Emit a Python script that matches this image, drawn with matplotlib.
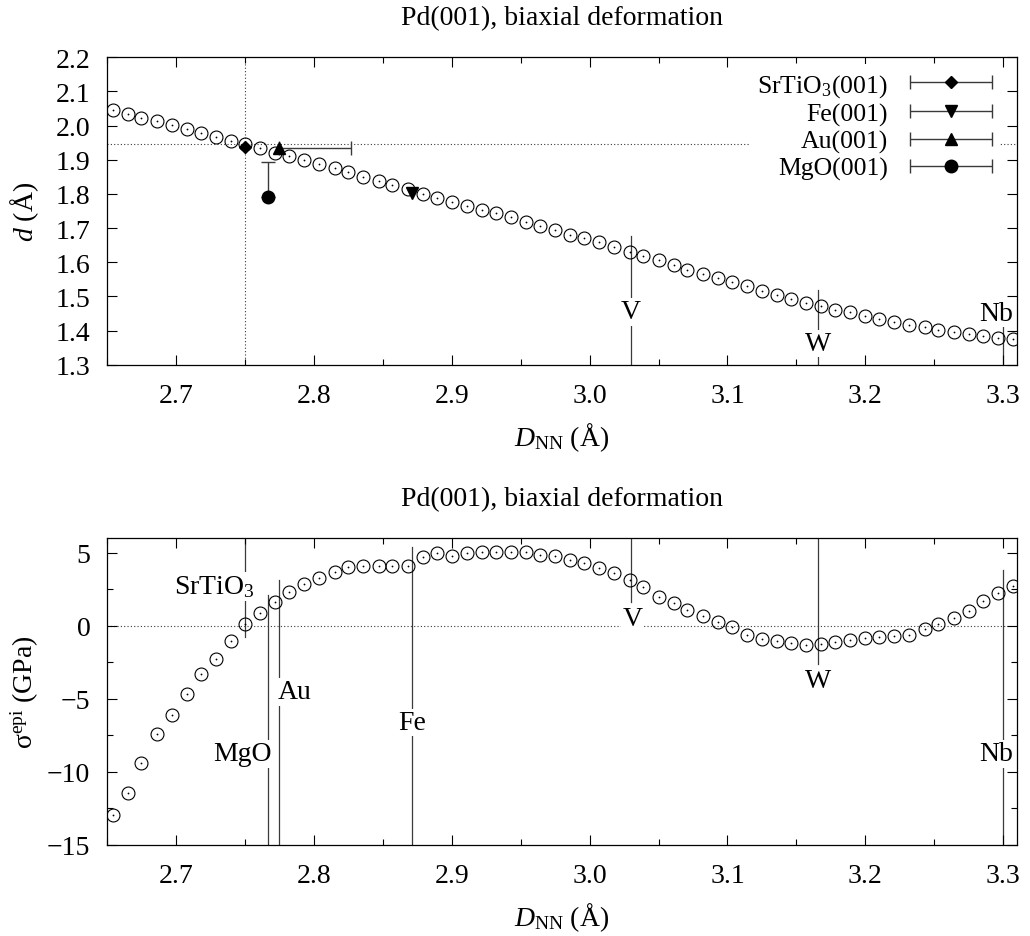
import numpy as np
import matplotlib.pyplot as plt
from matplotlib.ticker import MultipleLocator
from matplotlib.container import ErrorbarContainer
from matplotlib.legend_handler import HandlerErrorbar

plt.rcParams['font.family'] = ['Liberation Serif', 'DejaVu Serif']
plt.rcParams['mathtext.fontset'] = 'custom'
plt.rcParams['mathtext.rm'] = 'Liberation Serif'
plt.rcParams['mathtext.it'] = 'Liberation Serif:italic'
plt.rcParams['font.size'] = 20

# Pd(001) under biaxial deformation
d_nn = [2.654, 2.665, 2.675, 2.686, 2.697, 2.708, 2.718, 2.729, 2.740, 2.750,
        2.761, 2.772, 2.782, 2.793, 2.804, 2.815, 2.825, 2.836, 2.847, 2.857,
        2.868, 2.879, 2.889, 2.900, 2.911, 2.922, 2.932, 2.943, 2.954, 2.964,
        2.975, 2.986, 2.996, 3.007, 3.018, 3.029, 3.039, 3.050, 3.061, 3.071,
        3.082, 3.093, 3.103, 3.114, 3.125, 3.136, 3.146, 3.157, 3.168, 3.178,
        3.189, 3.200, 3.210, 3.221, 3.232, 3.243, 3.253, 3.264, 3.275, 3.285,
        3.296, 3.307]
d_layer = [2.046, 2.034, 2.023, 2.013, 2.002, 1.990, 1.979, 1.968, 1.956, 1.945,
           1.934, 1.921, 1.910, 1.898, 1.888, 1.875, 1.863, 1.850, 1.839, 1.826,
           1.814, 1.800, 1.787, 1.777, 1.766, 1.753, 1.743, 1.732, 1.719, 1.707,
           1.695, 1.681, 1.670, 1.658, 1.644, 1.631, 1.619, 1.607, 1.592, 1.577,
           1.566, 1.553, 1.541, 1.530, 1.515, 1.504, 1.492, 1.481, 1.473, 1.461,
           1.454, 1.444, 1.434, 1.426, 1.416, 1.411, 1.403, 1.397, 1.390, 1.383,
           1.378, 1.375]
sigma_epi = [-12.95, -11.44, -9.41, -7.41, -6.11, -4.67, -3.30, -2.30, -1.03, 0.12,
             0.87, 1.60, 2.28, 2.85, 3.26, 3.69, 3.99, 4.10, 4.10, 4.06,
             4.10, 4.68, 4.95, 4.79, 4.95, 5.02, 5.02, 5.02, 5.02, 4.84,
             4.74, 4.52, 4.27, 3.92, 3.60, 3.15, 2.67, 1.94, 1.53, 1.10,
             0.69, 0.23, -0.11, -0.64, -0.91, -1.07, -1.21, -1.30, -1.25, -1.09,
             -0.98, -0.86, -0.79, -0.73, -0.64, -0.23, 0.12, 0.50, 1.03, 1.67,
             2.24, 2.69]

d_eq = 1.945
dnn_eq = 2.75

# experimental films
exp_labels = ['SrTiO$_3$(001)', 'Fe(001)', 'Au(001)', 'MgO(001)']
exp_dnn = [2.750, 2.871, 2.775, 2.767]
exp_d = [1.937, 1.803, 1.934, 1.790]
exp_xerr_up = [0.0, 0.0, 0.052, 0.0]
exp_yerr_up = [0.0, 0.0, 0.0, 0.104]
exp_markers = ['D', 'v', '^', 'o']
exp_msize = [6, 8, 8, 9]

# substrates
sub_names = ['SrTiO$_3$', 'MgO', 'Au', 'Fe', 'V', 'W', 'Nb']
sub_dnn = [2.750, 2.767, 2.775, 2.871, 3.030, 3.166, 3.300]

# annotation layout: name -> (line bottom, line top, label x, label y, ha)
top_marks = {'V': (1.30, 1.678, 3.030, 1.455, 'center'),
             'W': (1.30, 1.519, 3.166, 1.362, 'center'),
             'Nb': (1.30, 1.424, 3.295, 1.450, 'center')}
bot_marks = {'SrTiO$_3$': (-0.8, 6.0, 2.728, 2.7, 'center'),
             'MgO': (-15.0, 2.12, 2.7697, -8.78, 'right'),
             'Au': (-15.0, 3.15, 2.7735, -4.54, 'left'),
             'Fe': (-15.0, 5.36, 2.871, -6.63, 'center'),
             'V': (1.6, 6.0, 3.031, 0.5, 'center'),
             'W': (-2.62, 6.0, 3.166, -3.75, 'center'),
             'Nb': (-15.0, 3.81, 3.2952, -8.78, 'center')}

title = 'Pd(001), biaxial deformation'
xlab = r'$D_{\mathrm{NN}}$ (Å)'
line_c = '#3a3a3a'
dot_ls = (0, (1, 2))

fig = plt.figure(figsize=(10.30, 9.37), dpi=100)
ax1 = fig.add_axes([0.1039, 0.6097, 0.8835, 0.3281])
ax2 = fig.add_axes([0.1039, 0.0974, 0.8835, 0.3274])


def style(ax):
    ax.tick_params(which='both', direction='in', top=True, right=True,
                   width=0.8, labelsize=20)
    ax.tick_params(which='major', length=7)
    ax.tick_params(which='minor', length=4)
    ax.tick_params(axis='x', pad=13)
    ax.tick_params(axis='y', pad=12)
    for s in ax.spines.values():
        s.set_linewidth(0.9)
    ax.xaxis.set_major_locator(MultipleLocator(0.1))
    ax.xaxis.set_minor_locator(MultipleLocator(0.05))
    ax.xaxis.set_major_formatter('{x:.1f}')
    ax.set_xlim(2.65, 3.31)
    ax.set_xlabel(xlab, fontsize=20)
    ax.xaxis.set_label_coords(0.5, -0.18)
    ax.set_title(title, fontsize=20, pad=24)


def draw_marks(ax, marks):
    for name, (y0, y1, tx, ty, ha) in marks.items():
        x = sub_dnn[sub_names.index(name)]
        ax.plot([x, x], [y0, y1], color=line_c, lw=0.9, zorder=1)
        ax.text(tx, ty, name, ha=ha, va='center', fontsize=20, zorder=3,
                bbox=dict(facecolor='white', edgecolor='none', pad=1.0))


# ---- top panel: interlayer distance
style(ax1)
ax1.set_ylim(1.3, 2.2)
ax1.yaxis.set_major_locator(MultipleLocator(0.1))
ax1.yaxis.set_major_formatter('{x:.1f}')
ax1.set_ylabel(r'$d$ (Å)', fontsize=20)
ax1.yaxis.set_label_coords(-0.072, 0.5)
ax1.axvline(dnn_eq, color=line_c, lw=0.8, ls=dot_ls, zorder=0)
ax1.axhline(d_eq, color=line_c, lw=0.8, ls=dot_ls, zorder=0)
draw_marks(ax1, top_marks)
ax1.plot(d_nn, d_layer, 'o', ms=9.3, mfc='none', mec='black', mew=0.8, zorder=4)
ax1.plot(d_nn, d_layer, 'o', ms=1.3, color='black', mew=0, zorder=4)

handles = []
for i in range(len(exp_labels)):
    ax1.errorbar([exp_dnn[i]], [exp_d[i]],
                 xerr=[[0.0], [exp_xerr_up[i]]] if exp_xerr_up[i] > 0 else None,
                 yerr=[[0.0], [exp_yerr_up[i]]] if exp_yerr_up[i] > 0 else None,
                 fmt=exp_markers[i], ms=exp_msize[i], color='black',
                 ecolor=line_c, elinewidth=1.0, capsize=5, capthick=1.0, zorder=5)
    h = ax1.errorbar([np.nan], [np.nan], xerr=[0.01], fmt=exp_markers[i],
                     ms=exp_msize[i], color='black', ecolor=line_c,
                     elinewidth=1.0, capsize=5, capthick=1.0, label=exp_labels[i])
    handles.append(h)

leg = ax1.legend(handles=handles, loc='upper right', bbox_to_anchor=(0.981, 0.978),
                 borderaxespad=0, borderpad=0.3, fontsize=18.5, markerfirst=False,
                 handlelength=3.2, handletextpad=0.85, labelspacing=0.15,
                 frameon=True, fancybox=False, framealpha=1,
                 facecolor='white', edgecolor='none',
                 handler_map={ErrorbarContainer: HandlerErrorbar(xerr_size=1.6)})
leg.set_zorder(6)
for t in leg.get_texts():
    t.set_ha('right')

# ---- bottom panel: epitaxial stress
style(ax2)
ax2.set_ylim(-15, 6)
ax2.yaxis.set_major_locator(MultipleLocator(5))
ax2.yaxis.set_minor_locator(MultipleLocator(2.5))
ax2.set_ylabel(r'$\mathrm{\sigma}^{\mathrm{epi}}$ (GPa)', fontsize=20)
ax2.yaxis.set_label_coords(-0.072, 0.5)
ax2.axhline(0, color=line_c, lw=0.8, ls=dot_ls, zorder=0)
draw_marks(ax2, bot_marks)
ax2.plot(d_nn, sigma_epi, 'o', ms=9.3, mfc='none', mec='black', mew=0.8, zorder=4)
ax2.plot(d_nn, sigma_epi, 'o', ms=1.3, color='black', mew=0, zorder=4)

fig.savefig('out.png', dpi=100)
